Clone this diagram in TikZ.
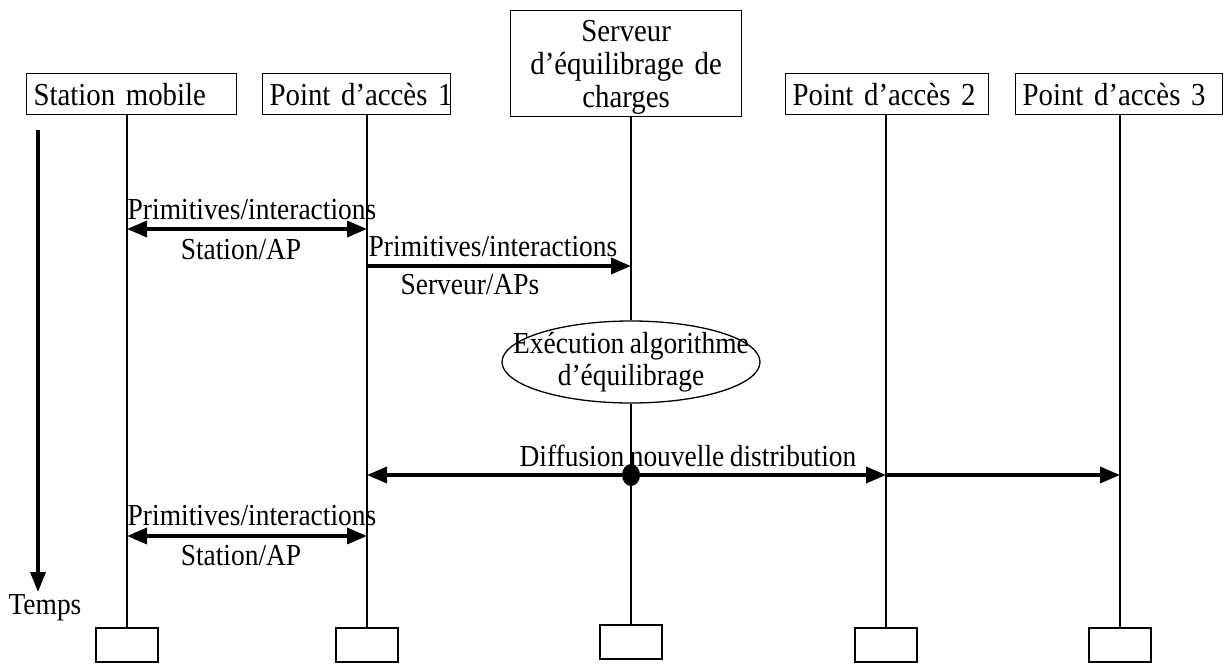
\documentclass[tikz,border=0pt]{standalone}
\usepackage{fontspec}
\setmainfont{Liberation Serif}[FakeStretch=0.9,WordSpace=0.8]
\usetikzlibrary{arrows.meta,shapes.geometric}
\begin{document}
\begin{tikzpicture}[x=1pt,y=-1pt,
  topbox/.style={draw,line width=1.3pt,minimum height=41pt,inner xsep=7pt,inner ysep=0pt,
    text width=#1,align=left,anchor=north west,font=\fontsize{32}{33}\selectfont},
  srvbox/.style={draw,line width=1.3pt,minimum height=106pt,inner xsep=7pt,inner ysep=0pt,
    text width=217pt,align=center,anchor=north west,font=\fontsize{32}{33}\selectfont},
  endbox/.style={draw,line width=1.3pt,minimum width=62pt,minimum height=34pt,inner sep=0pt},
  life/.style={line width=1.3pt},
  msg/.style={line width=3.5pt,-{Triangle[length=20pt,width=16pt]}},
  bimsg/.style={line width=3.5pt,{Triangle[length=20pt,width=16pt]}-{Triangle[length=20pt,width=16pt]}},
  lbl/.style={font=\fontsize{30.5}{32}\selectfont,inner sep=0pt}]
\useasboundingbox (0,0) rectangle (1226,664);

% top boxes
\node[topbox=196pt] (sm) at (26,73) {\mbox{Station mobile}};
\node[topbox=174pt] (p1) at (262,73) {\mbox{Point d’accès 1}};
\node[srvbox] (srv) at (510,10) {\rule{0pt}{28pt}Serveur\\d’équilibrage de\\charges};
\node[topbox=189pt] (p2) at (785,73) {\mbox{Point d’accès 2}};
\node[topbox=193pt] (p3) at (1015,73) {\mbox{Point d’accès 3}};

% bottom boxes
\node[endbox] (smb) at (127,645) {};
\node[endbox] (p1b) at (367,645) {};
\node[endbox] (srvb) at (631,642) {};
\node[endbox] (p2b) at (886,645) {};
\node[endbox] (p3b) at (1120,645) {};

% algorithm ellipse
\node[ellipse,draw,line width=1.3pt,minimum width=258pt,minimum height=82pt,inner sep=0pt] (alg) at (631,362) {};
\node[lbl,align=center,font=\fontsize{30.5}{32}\selectfont] (algt) at (alg.center) {Exécution algorithme\\d’équilibrage};

% lifelines
\draw[life] (sm.south -| smb) -- (smb.north);
\draw[life] (p1.south -| p1b) -- (p1b.north);
\draw[life] (srv.south -| srvb) -- (alg.north);
\draw[life] (alg.south) -- (srvb.north);
\draw[life] (p2.south -| p2b) -- (p2b.north);
\draw[life] (p3.south -| p3b) -- (p3b.north);

% time axis
\coordinate (t0) at (38,130);
\coordinate (t1) at (38,592);
\draw[line width=3.5pt,-{Triangle[length=20pt,width=15pt]}] (t0) -- (t1);
\node[lbl,anchor=north] (temps) at (45,594) {Temps};

% message 1
\coordinate (m1a) at (127,229);
\coordinate (m1b) at (367,229);
\draw[bimsg] (m1a) -- (m1b);
\node[lbl] (m1t) at (252,210) {Primitives/interactions};
\node[lbl] (m1s) at (241,250) {Station/AP};

% message 2
\coordinate (m2a) at (367,266);
\coordinate (m2b) at (631,266);
\draw[msg] (m2a) -- (m2b);
\node[lbl] (m2t) at (493,247) {Primitives/interactions};
\node[lbl] (m2s) at (470,285) {Serveur/APs};

% diffusion
\coordinate (dl) at (367,475);
\coordinate (dr2) at (886,475);
\coordinate (dr3) at (1120,475);
\node[ellipse,fill=black,minimum width=18pt,minimum height=22pt,inner sep=0pt] (dot) at (631,475) {};
\draw[msg] (dot) -- (dl);
\draw[msg] (dot) -- (dr2);
\draw[msg] (dr2) -- (dr3);
\node[lbl] (dt) at (688,456) {Diffusion nouvelle distribution};

% message 3
\coordinate (m3a) at (127,536);
\coordinate (m3b) at (367,536);
\draw[bimsg] (m3a) -- (m3b);
\node[lbl] (m3t) at (252,516) {Primitives/interactions};
\node[lbl] (m3s) at (241,556) {Station/AP};
\end{tikzpicture}
\end{document}
